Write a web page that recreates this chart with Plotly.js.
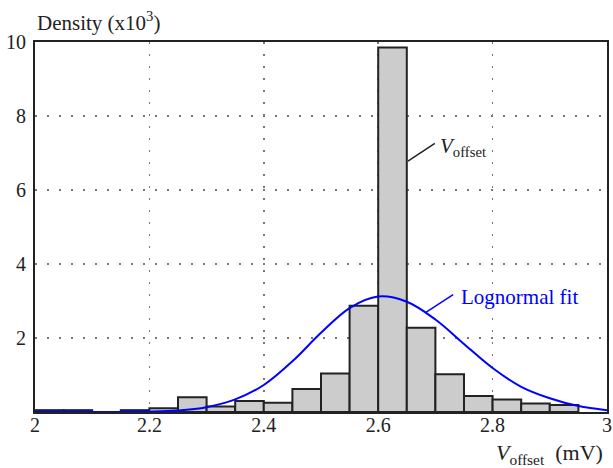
<!DOCTYPE html>
<html>
<head>
<meta charset="utf-8">
<script src="https://cdn.plot.ly/plotly-3.0.1.min.js"></script>
<style>html,body{margin:0;padding:0;background:#fff;}#chart{width:613px;height:468px;}</style>
</head>
<body>
<div id="chart"></div>
<script>
// Histogram bins (V_offset, mV) and density (x10^3)
const binCenters = [2.025,2.075,2.125,2.175,2.225,2.275,2.325,2.375,2.425,2.475,
                    2.525,2.575,2.625,2.675,2.725,2.775,2.825,2.875,2.925];
const density = [0.05,0.05,0.0,0.05,0.10,0.40,0.15,0.30,0.25,0.62,
                 1.04,2.87,9.85,2.28,1.02,0.43,0.34,0.23,0.19];

// Lognormal fit curve
const fitX = [2.00,2.05,2.10,2.15,2.20,2.25,2.30,2.35,2.40,2.45,2.50,2.55,2.60,2.65,2.70,2.75,2.80,2.85,2.90,2.95,3.00];
const fitY = [0.00,0.00,0.00,0.003,0.01,0.04,0.13,0.34,0.73,1.37,2.14,2.81,3.12,2.98,2.50,1.84,1.19,0.68,0.37,0.16,0.05];

const xTicks = [2,2.2,2.4,2.6,2.8,3];
const xTickText = ['2','2.2','2.4','2.6','2.8','3'];
const yTicks = [2,4,6,8,10];
const yTickText = ['2','4','6','8','10'];

const FONT = '"Liberation Serif", serif';

const traces = [
  {type:'bar', x:binCenters, y:density, width:0.05,
   marker:{color:'#cccccc', line:{color:'#222222', width:2}},
   hoverinfo:'skip', showlegend:false},
  {type:'scatter', mode:'lines', x:fitX, y:fitY,
   line:{color:'#0000ff', width:2, shape:'spline'}, showlegend:false}
];

const layout = {
  width:613, height:468,
  margin:{l:35, r:6, t:42, b:56},
  paper_bgcolor:'#fff', plot_bgcolor:'#fff',
  font:{family:FONT, size:20, color:'#222'},
  bargap:0,
  xaxis:{range:[2,3], tickvals:xTicks, ticktext:xTickText, showgrid:true,
         gridcolor:'#777', gridwidth:1.5, griddash:'2px,10px',
         showline:true, mirror:true, linecolor:'#222', linewidth:2,
         ticks:'', zeroline:false, fixedrange:true, ticklabelstandoff:-6,
         tickfont:{family:FONT, size:20, color:'#222'}},
  yaxis:{range:[0,10], tickvals:yTicks, ticktext:yTickText, showgrid:true,
         gridcolor:'#777', gridwidth:1.5, griddash:'2px,10px',
         showline:true, mirror:true, linecolor:'#222', linewidth:2,
         ticks:'', zeroline:false, fixedrange:true, ticklabelstandoff:3,
         tickfont:{family:FONT, size:20, color:'#222'}},
  shapes:[
    {type:'line', xref:'x', yref:'y', x0:2.652, y0:6.78, x1:2.699, y1:7.26,
     line:{color:'#222', width:1.5}},
    {type:'line', xref:'x', yref:'y', x0:2.682, y0:2.68, x1:2.731, y1:3.17,
     line:{color:'#0000ff', width:1.5}}
  ],
  annotations:[
    {xref:'paper', yref:'paper', x:0.0, y:1.0, xanchor:'left', yanchor:'bottom', yshift:5,
     text:'Density (x10<sup>3</sup>)', showarrow:false, font:{family:FONT, size:21, color:'#222'}},
    {xref:'paper', yref:'paper', x:1.0, y:0, xanchor:'right', yanchor:'top', yshift:-26, xshift:-2,
     text:'<i>V</i><sub>offset</sub>&nbsp; (mV)', showarrow:false, font:{family:FONT, size:22, color:'#222'}},
    {xref:'x', yref:'y', x:2.70, y:7.15, xanchor:'left', yanchor:'middle', xshift:3,
     text:'<i>V</i><sub>offset</sub>', showarrow:false, font:{family:FONT, size:21, color:'#222'}},
    {xref:'x', yref:'y', x:2.741, y:3.12, xanchor:'left', yanchor:'middle',
     text:'Lognormal fit', showarrow:false, font:{family:FONT, size:21, color:'#0000ff'}}
  ]
};

Plotly.newPlot('chart', traces, layout, {displayModeBar:false, staticPlot:true});
</script>
</body>
</html>
